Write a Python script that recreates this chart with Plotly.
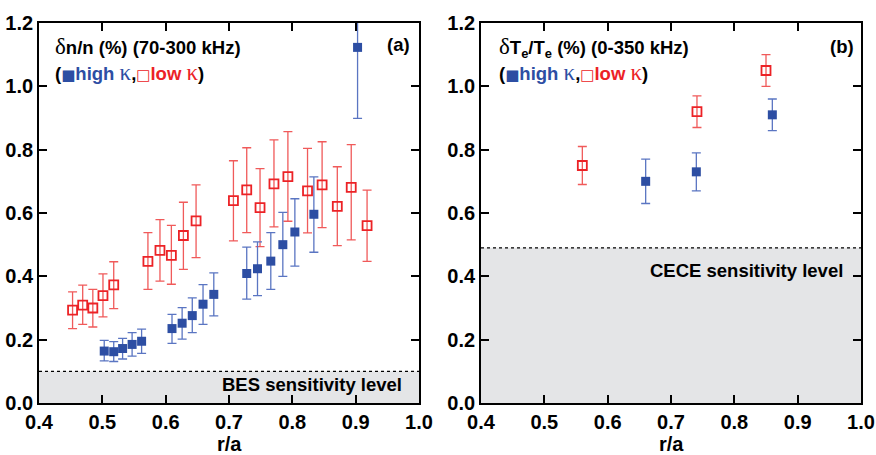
import plotly.graph_objects as go

# ---- data: panel (a) density fluctuation ----
low_a_x = [0.453, 0.469, 0.485, 0.501, 0.518, 0.572, 0.591, 0.609, 0.628, 0.648,
           0.707, 0.728, 0.749, 0.771, 0.793, 0.824, 0.847, 0.871, 0.893, 0.918]
low_a_y = [0.293, 0.309, 0.300, 0.339, 0.373, 0.447, 0.482, 0.466, 0.529, 0.575,
           0.639, 0.673, 0.617, 0.692, 0.715, 0.670, 0.689, 0.621, 0.681, 0.560]
low_a_hi = [0.351, 0.372, 0.359, 0.408, 0.446, 0.538, 0.579, 0.561, 0.634, 0.689,
            0.765, 0.806, 0.740, 0.831, 0.857, 0.804, 0.825, 0.746, 0.816, 0.672]
low_a_lo = [0.235, 0.248, 0.240, 0.272, 0.298, 0.359, 0.385, 0.375, 0.422, 0.459,
            0.512, 0.538, 0.494, 0.556, 0.574, 0.537, 0.554, 0.497, 0.515, 0.447]

high_a_x = [0.503, 0.518, 0.532, 0.547, 0.562, 0.610, 0.626, 0.642, 0.659, 0.676,
            0.728, 0.745, 0.766, 0.785, 0.804, 0.834, 0.903]
high_a_y = [0.164, 0.162, 0.172, 0.185, 0.195, 0.235, 0.252, 0.276, 0.312, 0.343,
            0.409, 0.424, 0.448, 0.500, 0.540, 0.596, 1.123]
high_a_hi = [0.198, 0.194, 0.204, 0.222, 0.233, 0.280, 0.301, 0.332, 0.374, 0.411,
             0.492, 0.509, 0.538, 0.602, 0.645, 0.714, 1.35]
high_a_lo = [0.133, 0.131, 0.139, 0.148, 0.157, 0.188, 0.202, 0.222, 0.248, 0.275,
             0.328, 0.339, 0.359, 0.400, 0.432, 0.476, 0.899]

# ---- data: panel (b) electron temperature fluctuation ----
low_b_x = [0.560, 0.741, 0.850]
low_b_y = [0.75, 0.92, 1.05]
low_b_hi = [0.81, 0.97, 1.10]
low_b_lo = [0.69, 0.87, 1.00]

high_b_x = [0.660, 0.740, 0.860]
high_b_y = [0.70, 0.73, 0.91]
high_b_hi = [0.77, 0.79, 0.96]
high_b_lo = [0.63, 0.67, 0.86]

bes_level = 0.10
cece_level = 0.49

x_ticks = [0.4, 0.5, 0.6, 0.7, 0.8, 0.9, 1.0]
y_ticks = [0.0, 0.2, 0.4, 0.6, 0.8, 1.0, 1.2]
x_title = "r/a"

FONT = "Liberation Sans, Arial, Helvetica, sans-serif"
RED = "#ec2226"
RED_ERR = "#f05a5a"
BLUE = "#2d4ea3"
BLUE_ERR = "#5a75c2"

fig = go.Figure()


def add_series(xs, ys, hi, lo, xa, ya, filled):
    plus = [h - y for h, y in zip(hi, ys)]
    minus = [y - l for y, l in zip(ys, lo)]
    if filled:
        marker = dict(symbol="square", size=9, color=BLUE, line=dict(width=0))
        ec = BLUE_ERR
    else:
        marker = dict(symbol="square-open", size=9, color=RED, line=dict(width=1.8, color=RED))
        ec = RED_ERR
    fig.add_trace(go.Scatter(
        x=xs, y=ys, mode="markers", marker=marker, xaxis=xa, yaxis=ya,
        error_y=dict(type="data", symmetric=False, array=plus, arrayminus=minus,
                     color=ec, thickness=1.3, width=4.5),
        showlegend=False, cliponaxis=True))


add_series(low_a_x, low_a_y, low_a_hi, low_a_lo, "x", "y", False)
add_series(high_a_x, high_a_y, high_a_hi, high_a_lo, "x", "y", True)
add_series(low_b_x, low_b_y, low_b_hi, low_b_lo, "x2", "y2", False)
add_series(high_b_x, high_b_y, high_b_hi, high_b_lo, "x2", "y2", True)

# sensitivity shading and dashed lines
for xr, yr, lvl in [("x", "y", bes_level), ("x2", "y2", cece_level)]:
    fig.add_shape(type="rect", xref=xr, yref=yr, x0=0.4, x1=1.0, y0=0, y1=lvl,
                  fillcolor="#e4e5e7", line=dict(width=0), layer="below")
    fig.add_shape(type="line", xref=xr, yref=yr, x0=0.4, x1=1.0, y0=lvl, y1=lvl,
                  line=dict(color="black", width=1.3, dash="dot"), layer="above")

tick_font = dict(family=FONT, size=20, color="black", weight="bold")
axis_common = dict(range=[0.4, 1.0], showgrid=False, zeroline=False,
                   showline=True, linecolor="black", linewidth=1.8, mirror="ticks",
                   ticks="inside", ticklen=8, tickwidth=1.5, tickcolor="black",
                   tickfont=tick_font, tickformat=".1f", automargin=False,
                   ticklabeloverflow="allow", ticklabelposition="outside")

fig.update_layout(
    width=876, height=455, autosize=False,
    margin=dict(l=0, r=0, t=0, b=0),
    paper_bgcolor="white", plot_bgcolor="white",
    xaxis=dict(domain=[39/876, 419/876], anchor="y", tickvals=x_ticks, **axis_common),
    yaxis=dict(domain=[1-403/455, 1-23/455], anchor="x", **{**axis_common, "range": [0, 1.2]},
               tickvals=y_ticks, ticklabelstandoff=0),
    xaxis2=dict(domain=[481/876, 861/876], anchor="y2", tickvals=x_ticks, **axis_common),
    yaxis2=dict(domain=[1-403/455, 1-23/455], anchor="x2", **{**axis_common, "range": [0, 1.2]},
                tickvals=y_ticks, ticklabelstandoff=0),
)

serif = "font-family:'Liberation Serif',serif;font-weight:normal;font-size:23px"
sq = "font-family:'DejaVu Sans';font-size:15px"
legend_line = (f"(<span style='color:{BLUE}'><span style=\"{sq}\">■</span>high "
               f"<span style=\"{serif}\">κ</span></span>,"
               f"<span style='color:{RED}'><span style=\"{sq}\">□</span>low "
               f"<span style=\"{serif}\">κ</span></span>)")

ann_font = dict(family=FONT, size=18.5, color="black", weight="bold")
anns = [
    dict(x=53/876, y=1-47/455, text=f"<span style=\"{serif}\">δ</span>n/n (%) (70-300 kHz)",
         xanchor="left"),
    dict(x=53/876, y=1-72/455, text=legend_line, xanchor="left"),
    dict(x=412/876, y=1-45/455, text="(a)", xanchor="right"),
    dict(x=404/876, y=1-384/455, text="BES sensitivity level", xanchor="right"),
    dict(x=497/876, y=1-48/455,
         text=f"<span style=\"{serif}\">δ</span>T<sub>e</sub>/T<sub>e</sub> (%) (0-350 kHz)",
         xanchor="left"),
    dict(x=497/876, y=1-72/455, text=legend_line, xanchor="left"),
    dict(x=856/876, y=1-47/455, text="(b)", xanchor="right"),
    dict(x=845/876, y=1-270/455, text="CECE sensitivity level", xanchor="right"),
]
for a in anns:
    fig.add_annotation(xref="paper", yref="paper", yanchor="middle", showarrow=False,
                       font=ann_font, **a)

# axis titles (placed as x-domain-centred annotations below the tick labels)
for xr in ["x domain", "x2 domain"]:
    fig.add_annotation(xref=xr, yref="paper", x=0.5, y=1-444/455, text=x_title,
                       showarrow=False, yanchor="middle",
                       font=dict(family=FONT, size=20, color="black", weight="bold"))

fig.write_html("out.html")
